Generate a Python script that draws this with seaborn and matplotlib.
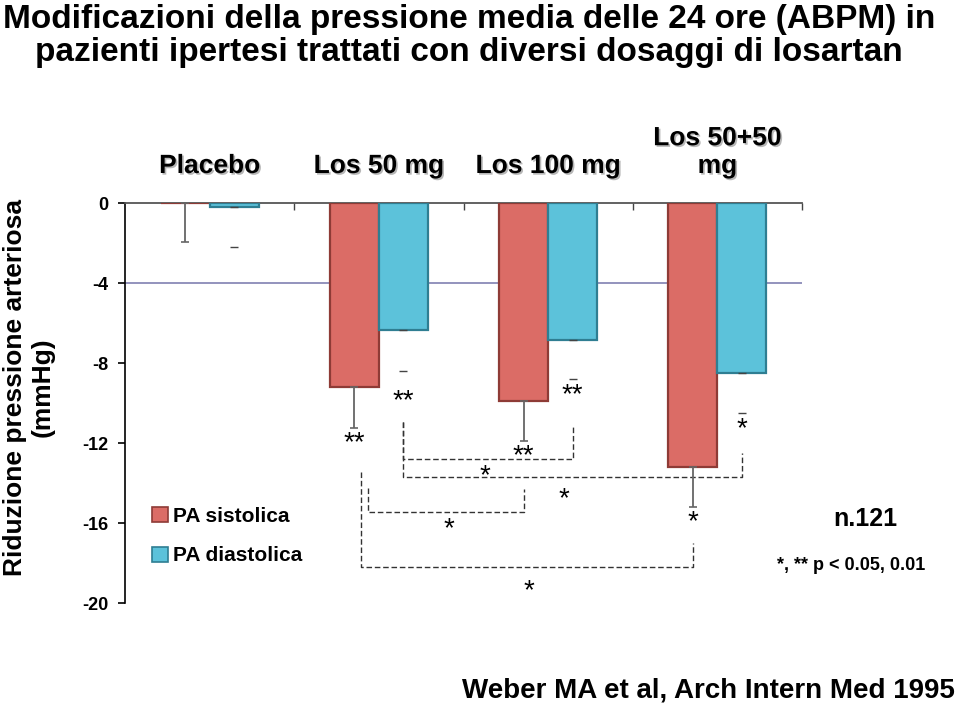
import numpy as np
import pandas as pd
import matplotlib
matplotlib.use("Agg")
import matplotlib.pyplot as plt
import matplotlib.patheffects as pe
from matplotlib.patches import Patch
import seaborn as sns

# ---------------- data ----------------
groups = ["Placebo", "Los 50 mg", "Los 100 mg", "Los 50+50\nmg"]
series = ["PA sistolica", "PA diastolica"]
sys_vals = [0.0, -9.2, -9.9, -13.2]
dia_vals = [-0.2, -6.35, -6.85, -8.5]
sys_err = [1.95, 2.05, 2.0, 2.0]
dia_err = [2.0, 2.05, 1.95, 2.0]
sys_sig = ["", "**", "**", "*"]
dia_sig = ["", "**", "**", "*"]
yticks = [0, -4, -8, -12, -16, -20]
ref_line = -4
title = "Modificazioni della pressione media delle 24 ore (ABPM) in\npazienti ipertesi trattati con diversi dosaggi di losartan"
ylabel = "Riduzione pressione arteriosa\n(mmHg)"
sample_note = "n.121"
p_note = "*, ** p < 0.05, 0.01"
source = "Weber MA et al, Arch Intern Med 1995"
# comparisons between bars: (group a, series a, group b, series b, label)
comparisons = [
    (1, 1, 2, 1, "*"),
    (1, 1, 3, 1, "*"),
    (1, 0, 2, 0, "*"),
    (1, 0, 3, 0, "*"),
]

# ---------------- style ----------------
sns.set_theme(style="white")
plt.rcParams["font.family"] = ["Liberation Sans", "DejaVu Sans"]
for k in ["text.color", "axes.labelcolor", "xtick.color", "ytick.color"]:
    plt.rcParams[k] = "black"

sys_color, dia_color = "#db6c66", "#5cc2da"
sys_edge, dia_edge = "#8e3b36", "#2f7e92"

fig = plt.figure(figsize=(9.6, 7.04), dpi=100)
ax = fig.add_axes([125 / 960, 1 - 603 / 704, 677 / 960, 400 / 704])

df = pd.DataFrame({
    "group": groups * 2,
    "series": [series[0]] * len(groups) + [series[1]] * len(groups),
    "value": sys_vals + dia_vals,
})

sns.barplot(data=df, x="group", y="value", hue="series", order=groups,
            hue_order=series, palette=[sys_color, dia_color], width=0.58,
            errorbar=None, saturation=1, linewidth=1.6, legend=False,
            ax=ax, zorder=3)

edges = [sys_edge, dia_edge]
centers = []
for cont, ec in zip(ax.containers, edges):
    xs = []
    for p in cont:
        p.set_edgecolor(ec)
        xs.append(p.get_x() + p.get_width() / 2)
    centers.append(xs)

ax.axhline(ref_line, color="#8a8ab8", lw=1.3, zorder=1)

# error bars (downwards only)
ax.errorbar(centers[0], sys_vals, yerr=[sys_err, [0] * 4], fmt="none",
            ecolor="#666666", elinewidth=1.3, capsize=3, capthick=1.2, zorder=4)
ax.errorbar(centers[1], dia_vals, yerr=[dia_err, [0] * 4], fmt="none",
            ecolor="#444444", elinewidth=0, capsize=3, capthick=1.0, zorder=4)

# significance stars under bars
star_kw = dict(ha="center", va="center", fontsize=20, color="black", zorder=5)
star_shift = 0.2  # glyph sits high in its text box
for s_idx, (vals, errs, sigs) in enumerate([(sys_vals, sys_err, sys_sig),
                                            (dia_vals, dia_err, dia_sig)]):
    for i, (v, e, s) in enumerate(zip(vals, errs, sigs)):
        if s:
            gap = 0.55 if s_idx == 0 else (1.3 if i == 1 else 0.6)
            ax.text(centers[s_idx][i], v - e - gap - star_shift, s, **star_kw)

# comparison brackets
bracket_layout = [
    # (dx_a, top_a, dx_b, top_b, y_level, label_dx, label_dy)
    (0.0, -10.95, 0.0, -11.1, -12.8, -0.02, -0.65),
    (0.0, -10.95, 0.0, -12.5, -13.7, -0.05, -0.9),
    (0.08, -14.25, 0.0, -14.3, -15.45, 0.02, -0.65),
    (0.04, -13.45, 0.0, -17.0, -18.2, 0.01, -1.0),
]
dash_kw = dict(color="#333333", lw=1.0, ls=(0, (4, 2)), zorder=2)
for (ga, sa, gb, sb, lab), (dxa, ta, dxb, tb, yl, ldx, ldy) in zip(comparisons, bracket_layout):
    xa = centers[sa][ga] + dxa
    xb = centers[sb][gb] + dxb
    ax.plot([xa, xa, xb, xb], [ta, yl, yl, tb], **dash_kw)
    ax.text((xa + xb) / 2 + ldx, yl + ldy - star_shift, lab, **star_kw)

# axes styling
ax.set_xlim(-0.5, len(groups) - 0.5)
ax.set_ylim(-20, 0)
ax.set_xlabel("")
ax.set_ylabel("")
ax.xaxis.tick_top()
ax.set_xticks(range(len(groups)))
ax.set_xticklabels(groups, fontsize=19, fontweight="bold")
ax.set_xticks(np.arange(len(groups)) + 0.5, minor=True)
ax.tick_params(axis="x", which="major", length=0, pad=18, top=True, bottom=False)
ax.tick_params(axis="x", which="minor", direction="in", length=5, width=1.0,
               color="#444444", top=True, bottom=False)
for lbl in ax.get_xticklabels():
    lbl.set_path_effects([pe.SimplePatchShadow(offset=(1.2, -1.2), shadow_rgbFace="#888888", alpha=0.6),
                          pe.Normal()])

ax.set_yticks(yticks)
ax.set_yticklabels([str(t) for t in yticks], fontsize=13, fontweight="bold")
ax.tick_params(axis="y", left=True, direction="out", length=5, width=1.2,
               color="black", pad=7)
for side in ["right", "bottom"]:
    ax.spines[side].set_visible(False)
ax.spines["top"].set_color("#555555")
ax.spines["top"].set_linewidth(1.3)
ax.spines["left"].set_color("black")
ax.spines["left"].set_linewidth(1.2)
ax.grid(False)

# legend
handles = [Patch(facecolor=sys_color, edgecolor=sys_edge, lw=1.2),
           Patch(facecolor=dia_color, edgecolor=dia_edge, lw=1.2)]
fig.legend(handles, series, loc="center left", bbox_to_anchor=(152 / 960, 1 - 536 / 704),
           frameon=False, handlelength=0.75, handleheight=0.75, handletextpad=0.25,
           labelspacing=1.0, borderpad=0, borderaxespad=0,
           prop=dict(weight="bold", size=15))

# texts
fig.text(469 / 960, 1 - 4 / 704, title, ha="center", va="top", multialignment="center",
         fontsize=24, fontweight="bold", linespacing=1.07)
fig.text(29 / 960, 1 - 387 / 704, ylabel, rotation=90, ha="center", va="center",
         multialignment="center", fontsize=19, fontweight="bold", linespacing=1.2)
fig.text(865 / 960, 1 - 519 / 704, sample_note, ha="center", va="center",
         fontsize=18, fontweight="bold")
fig.text(851 / 960, 1 - 565 / 704, p_note, ha="center", va="center",
         fontsize=13, fontweight="bold")
fig.text(955 / 960, 1 - 690 / 704, source, ha="right", va="center",
         fontsize=20, fontweight="bold")

fig.savefig("out.png", dpi=100)
